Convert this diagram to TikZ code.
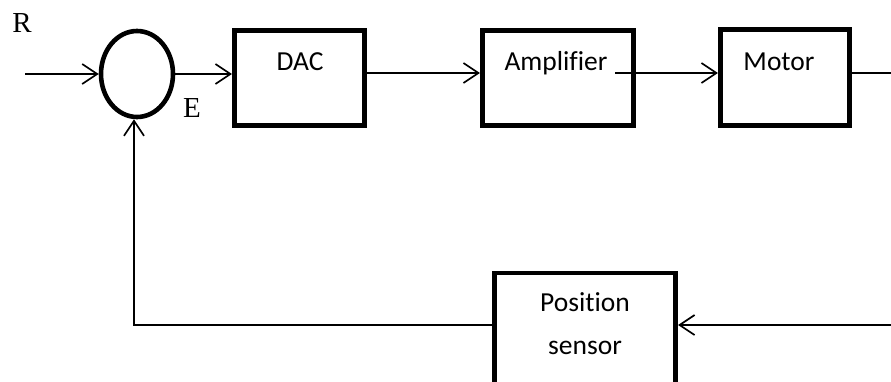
\documentclass[tikz,border=0pt]{standalone}
\usepackage{fontspec}
\setmainfont[Ligatures=NoCommon]{Carlito}
\newfontfamily\serifR{Liberation Serif}
\usetikzlibrary{arrows.meta,shapes.geometric,calc}
\tikzset{
  blk/.style={draw, line width=4.6pt, rectangle, inner sep=0pt},
  txt/.style={inner sep=0pt, font=\fontsize{27.5}{43}\selectfont, align=center},
  lbl/.style={inner sep=0pt, font=\serifR\fontsize{29}{30}\selectfont},
  sumc/.style={draw, line width=4.6pt, ellipse, inner sep=0pt, minimum width=72pt, minimum height=86pt},
  arr/.style={line width=1.7pt, -{Straight Barb[length=15pt,width=20pt,line width=1.7pt]}},
  ln/.style={line width=1.7pt}
}
\begin{document}
\begin{tikzpicture}[x=1pt,y=-1pt]
\useasboundingbox (0,0) rectangle (891,381);
% summing junction
\node[sumc] (sum) at (137,74) {};
% blocks
\node[blk, minimum width=130.5pt, minimum height=95.5pt] (dac) at (299.5,78) {};
\node[blk, minimum width=151.5pt, minimum height=95.5pt] (amp) at (558,78) {};
\node[blk, minimum width=129.5pt, minimum height=96.5pt] (mot) at (785,77.5) {};
\node[blk, minimum width=181.5pt, minimum height=112pt] (pos) at (585,329) {};
% block texts
\node[txt] (dact) at (300,62) {DAC};
\node[txt] (ampt) at (556,63) {Amplifier};
\node[txt] (mott) at (779,62) {Motor};
\node[txt] (post) at (585,323.5) {Position\\sensor};
% labels
\node[lbl] (R) at (22,23) {R};
\node[lbl] (E) at (192,108) {E};
% coordinates
\coordinate (in) at (25,74);
\coordinate (ampo) at (615,73);
\coordinate (out) at (891,73);
\coordinate (fbr) at (891,325);
\coordinate (fbl) at (134,325);
% connectors
\draw[arr] (in) -- (sum.west);
\draw[arr] (sum.east) -- (sum.east -| dac.west);
\draw[arr] (dac.east |- 0,73) -- (amp.west |- 0,73);
\draw[arr] (ampo) -- (ampo -| mot.west);
\draw[ln] (mot.east |- out) -- (out);
\draw[arr] (fbr) -- (fbr -| pos.east);
\draw[arr] (pos.west |- fbl) -- (fbl) -- (fbl |- sum.south);
\end{tikzpicture}
\end{document}
